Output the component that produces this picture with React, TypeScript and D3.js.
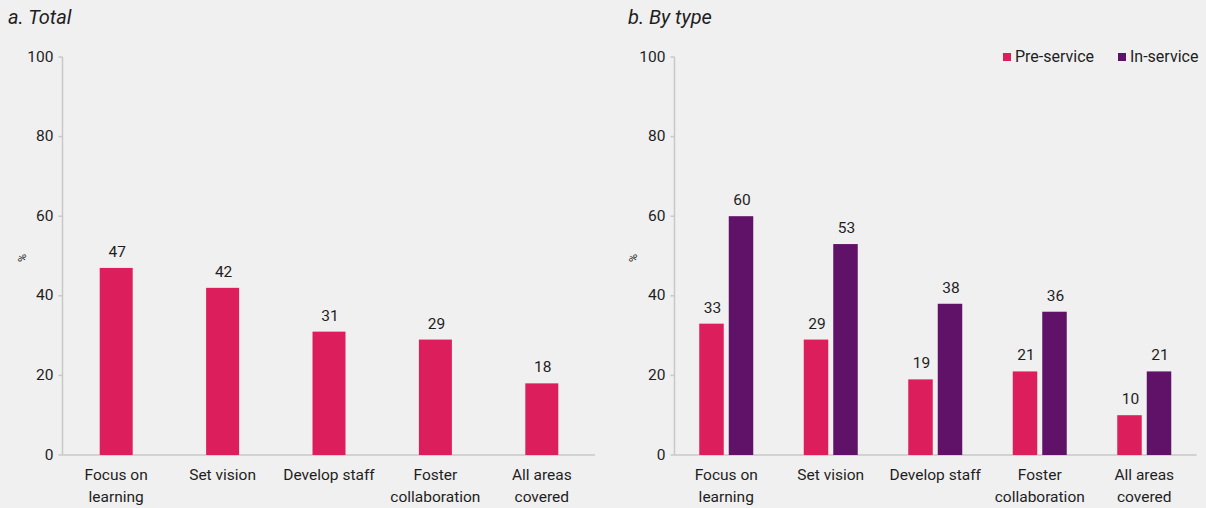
import React from "react";
import * as d3 from "d3";

const categories = [
  ["Focus on", "learning"],
  ["Set vision"],
  ["Develop staff"],
  ["Foster", "collaboration"],
  ["All areas", "covered"],
];
const categoryKeys = categories.map((c) => c.join(" "));
const totalValues = [47, 42, 31, 29, 18];
const preServiceValues = [33, 29, 19, 21, 10];
const inServiceValues = [60, 53, 38, 36, 21];
const seriesNames = ["Pre-service", "In-service"];
const yTicks = [0, 20, 40, 60, 80, 100];

const W = 1206;
const H = 508;
const PINK = "#DC1F5C";
const PURPLE = "#5F1268";
const AXIS = "#c8c8c8";
const TEXT = "#1e1e1e";
const FONT = "Roboto, 'Noto Sans', sans-serif";

const y = d3.scaleLinear().domain([0, 100]).range([455, 57]);

function Axes({ x0, x1, pctX }: { x0: number; x1: number; pctX: number }) {
  return (
    <g>
      {yTicks.map((t) => (
        <g key={t}>
          <line x1={x0 - 4} x2={x0} y1={y(t)} y2={y(t)} stroke={AXIS} strokeWidth={1.5} />
          <text x={x0 - 9} y={y(t)} dy="0.3em" textAnchor="end" fontSize={15.5} fill={TEXT}>
            {t}
          </text>
        </g>
      ))}
      <line x1={x0} x2={x0} y1={y(100)} y2={y(0)} stroke={AXIS} strokeWidth={1.5} />
      <line x1={x0} x2={x1} y1={y(0)} y2={y(0)} stroke={AXIS} strokeWidth={1.5} />
      <text
        transform={`translate(${pctX},258) rotate(-90)`}
        textAnchor="middle"
        dy="0.35em"
        fontSize={11}
        fill={TEXT}
      >
        %
      </text>
    </g>
  );
}

function CategoryLabels({ x }: { x: d3.ScaleBand<string> }) {
  return (
    <g>
      {categories.map((lines, i) => {
        const cx = (x(categoryKeys[i]) as number) + x.bandwidth() / 2;
        return (
          <text key={i} x={cx} y={480} textAnchor="middle" fontSize={15.5} fill={TEXT}>
            {lines.map((l, j) => (
              <tspan key={j} x={cx} dy={j === 0 ? 0 : 22}>
                {l}
              </tspan>
            ))}
          </text>
        );
      })}
    </g>
  );
}

export default function App() {
  const xLeft = d3.scaleBand<string>().domain(categoryKeys).range([63, 595]);
  const barW = xLeft.bandwidth() * 0.31;

  const xRight = d3.scaleBand<string>().domain(categoryKeys).range([674, 1196.5]);
  const xInner = d3
    .scaleBand<string>()
    .domain(seriesNames)
    .range([-27, 27])
    .paddingInner(0.17);
  const rightSeries = [preServiceValues, inServiceValues];
  const rightColors = [PINK, PURPLE];

  return (
    <svg
      width={W}
      height={H}
      style={{ position: "absolute", left: 0, top: 0, fontFamily: FONT }}
    >
      <rect width={W} height={H} fill="#f0f0f0" />

      {/* Panel a */}
      <text x={8} y={24} fontSize={20} fontStyle="italic" fill={TEXT}>
        a. Total
      </text>
      <Axes x0={62.5} x1={595} pctX={22} />
      {totalValues.map((v, i) => {
        const cx = (xLeft(categoryKeys[i]) as number) + xLeft.bandwidth() / 2;
        return (
          <g key={i}>
            <rect x={cx - barW / 2} y={y(v)} width={barW} height={y(0) - y(v)} fill={PINK} />
            <text x={cx + 1} y={y(v) - 11} textAnchor="middle" fontSize={15.5} fill={TEXT}>
              {v}
            </text>
          </g>
        );
      })}
      <CategoryLabels x={xLeft} />

      {/* Panel b */}
      <text x={628} y={24} fontSize={20} fontStyle="italic" fill={TEXT}>
        b. By type
      </text>
      <Axes x0={674.5} x1={1196.5} pctX={633} />
      {rightSeries.map((vals, s) =>
        vals.map((v, i) => {
          const cx = (xRight(categoryKeys[i]) as number) + xRight.bandwidth() / 2;
          const bx = cx + (xInner(seriesNames[s]) as number);
          return (
            <g key={`${s}-${i}`}>
              <rect
                x={bx}
                y={y(v)}
                width={xInner.bandwidth()}
                height={y(0) - y(v)}
                fill={rightColors[s]}
              />
              <text
                x={bx + xInner.bandwidth() / 2 + 1}
                y={y(v) - 11}
                textAnchor="middle"
                fontSize={15.5}
                fill={TEXT}
              >
                {v}
              </text>
            </g>
          );
        })
      )}
      <CategoryLabels x={xRight} />

      {/* Legend */}
      {seriesNames.map((name, s) => {
        const lx = [1003, 1118][s];
        return (
          <g key={name}>
            <rect x={lx} y={53} width={8} height={8} fill={rightColors[s]} />
            <text x={lx + 12} y={61.5} fontSize={16} fill={TEXT}>
              {name}
            </text>
          </g>
        );
      })}
    </svg>
  );
}
